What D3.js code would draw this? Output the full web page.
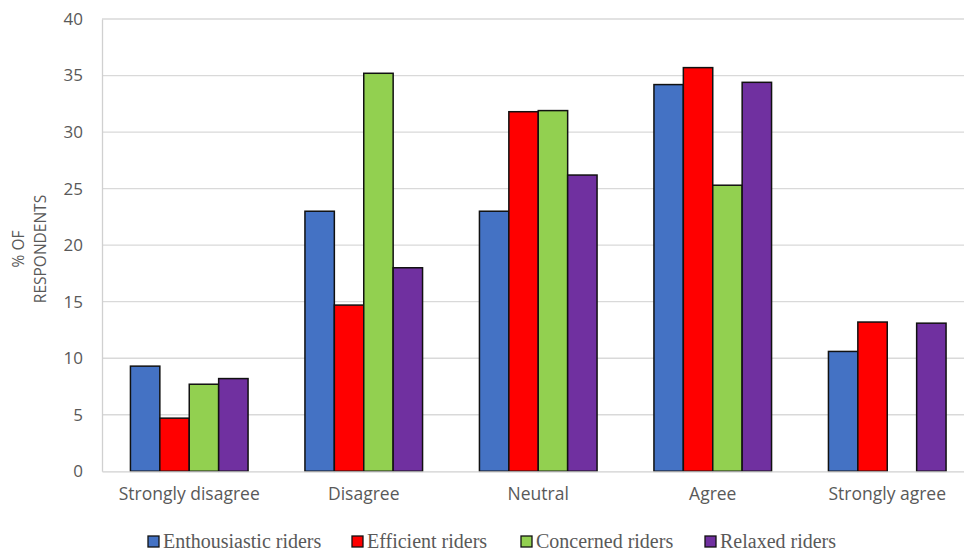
<!DOCTYPE html>
<html>
<head>
<meta charset="utf-8">
<script src="https://cdn.jsdelivr.net/npm/d3@7"></script>
<style>
  html, body { margin: 0; padding: 0; background: #fff; }
  svg { display: block; }
</style>
</head>
<body>
<svg id="chart" width="964" height="552"></svg>
<script>
// Survey answers by rider type
const categories = ["Strongly disagree", "Disagree", "Neutral", "Agree", "Strongly agree"];
const seriesNames = ["Enthousiastic riders", "Efficient riders", "Concerned riders", "Relaxed riders"];
const enthousiastic = [9.3, 23.0, 23.0, 34.2, 10.6];
const efficient = [4.7, 14.7, 31.8, 35.7, 13.2];
const concerned = [7.7, 35.2, 31.9, 25.3, 0];
const relaxed = [8.2, 18.0, 26.2, 34.4, 13.1];
const yTicks = [0, 5, 10, 15, 20, 25, 30, 35, 40];
const colors = ["#4472C4", "#FF0000", "#92D050", "#7030A0"];

const seriesValues = [enthousiastic, efficient, concerned, relaxed];
const svg = d3.select("#chart");

const plotLeft = 102, plotRight = 974.5, plotTop = 19, plotBottom = 471.3;

const x0 = d3.scaleBand().domain(categories).range([plotLeft, plotRight]).paddingInner(0.326).paddingOuter(0.163);
const x1 = d3.scaleBand().domain(seriesNames).range([0, x0.bandwidth()]).padding(0);
const y = d3.scaleLinear().domain([0, 40]).range([plotBottom, plotTop]);

// horizontal gridlines
svg.append("g")
  .selectAll("line")
  .data(yTicks.filter(t => t > 0))
  .join("line")
  .attr("x1", plotLeft).attr("x2", plotRight)
  .attr("y1", d => y(d)).attr("y2", d => y(d))
  .attr("stroke", "#d9d9d9").attr("stroke-width", 1.3);

// y axis
const yAxis = svg.append("g")
  .attr("transform", `translate(${plotLeft},0)`)
  .call(d3.axisLeft(y).tickValues(yTicks).tickSize(0).tickPadding(19));
yAxis.select(".domain").attr("stroke", "#d0d0d0").attr("stroke-width", 1.3);
yAxis.selectAll("text")
  .attr("font-family", "'Open Sans', 'Noto Sans', sans-serif")
  .attr("font-size", 17).attr("fill", "#595959");

// bars
const groups = svg.append("g")
  .selectAll("g")
  .data(categories)
  .join("g")
  .attr("transform", d => `translate(${x0(d)},0)`);

groups.selectAll("rect")
  .data((c, i) => seriesNames.map((s, j) => ({ s, j, v: seriesValues[j][i] })).filter(d => d.v > 0))
  .join("rect")
  .attr("x", d => x1(d.s))
  .attr("width", x1.bandwidth())
  .attr("y", d => y(d.v))
  .attr("height", d => y(0) - y(d.v))
  .attr("fill", d => colors[d.j])
  .attr("stroke", "#111")
  .attr("stroke-width", 1.5);

// x axis
const xAxis = svg.append("g")
  .attr("transform", `translate(0,${plotBottom})`)
  .call(d3.axisBottom(x0).tickSize(0).tickPadding(16));
xAxis.select(".domain").attr("stroke", "#d0d0d0").attr("stroke-width", 1.3);
xAxis.selectAll("text")
  .attr("font-family", "'Open Sans', 'Noto Sans', sans-serif")
  .attr("font-size", 17.5).attr("fill", "#595959");

// y axis title
const yTitle = svg.append("text")
  .attr("transform", "translate(24,249) rotate(-90)")
  .attr("text-anchor", "middle")
  .attr("font-family", "'Open Sans', 'Noto Sans', sans-serif")
  .attr("font-size", 15.5).attr("fill", "#595959");
yTitle.append("tspan").attr("x", 0).attr("dy", 0).text("% OF");
yTitle.append("tspan").attr("x", 0).attr("dy", 22).text("RESPONDENTS");

// legend
const legendX = [148, 352, 521, 705];
const legend = svg.append("g")
  .selectAll("g")
  .data(seriesNames)
  .join("g")
  .attr("transform", (d, i) => `translate(${legendX[i]},536)`);
legend.append("rect")
  .attr("width", 11).attr("height", 11)
  .attr("fill", (d, i) => colors[i])
  .attr("stroke", "#111").attr("stroke-width", 1.3);
legend.append("text")
  .attr("x", 15).attr("y", 12)
  .attr("font-family", "'Liberation Serif', 'Times New Roman', serif")
  .attr("font-size", 20).attr("fill", "#595959")
  .text(d => d);
</script>
</body>
</html>
